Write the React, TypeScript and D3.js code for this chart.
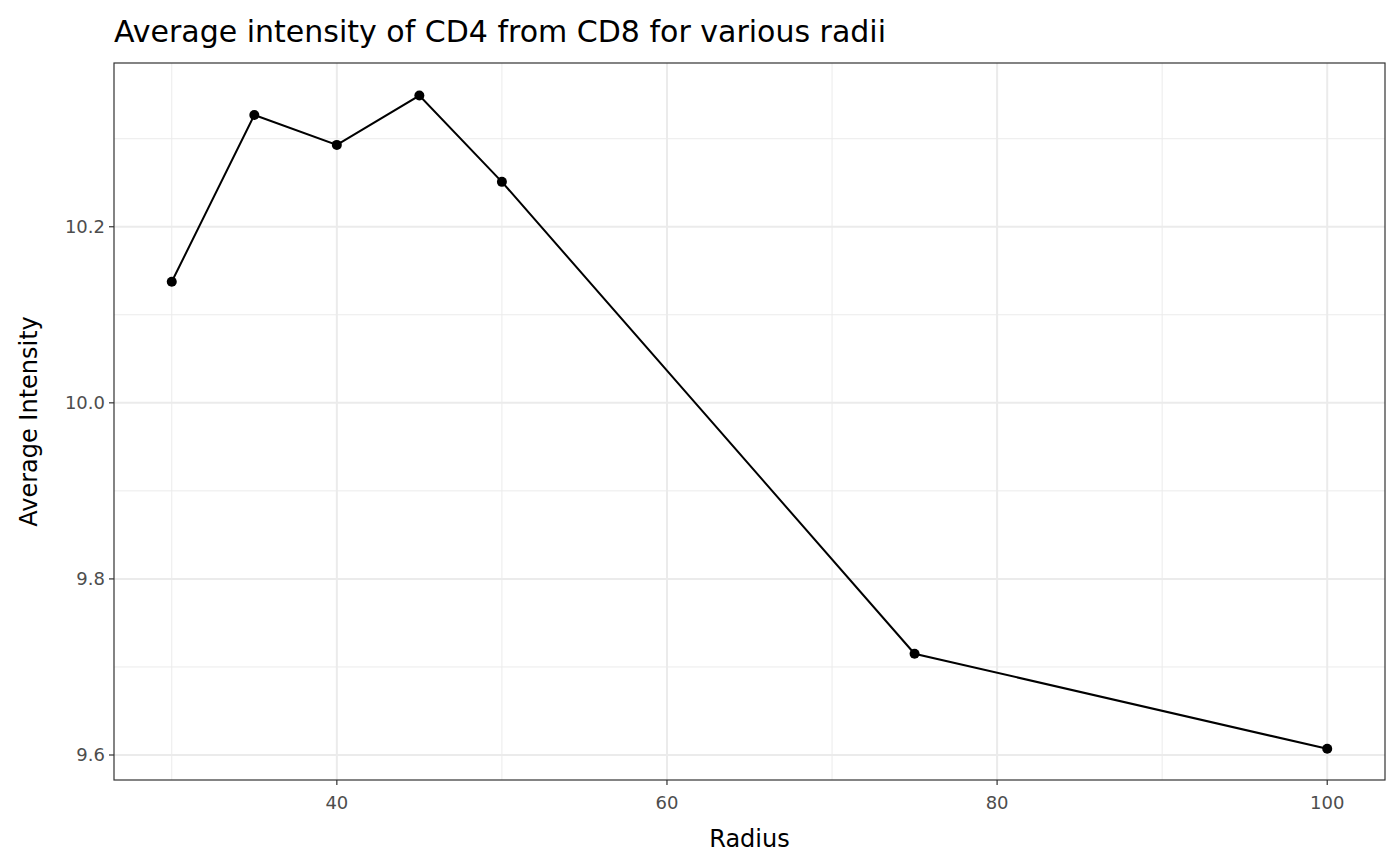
import * as d3 from "d3";

const radii = [30, 35, 40, 45, 50, 75, 100];
const intensity = [10.1375, 10.327, 10.293, 10.349, 10.251, 9.715, 9.607];
const xMajor = [40, 60, 80, 100];
const xMinor = [30, 50, 70, 90];
const yMajor = [9.6, 9.8, 10.0, 10.2];
const yMinor = [9.7, 9.9, 10.1, 10.3];

export default function App() {
  const W = 1400;
  const H = 866;
  const m = { left: 114, right: 15, top: 63, bottom: 86 };
  const x = d3.scaleLinear().domain([26.5, 103.5]).range([m.left, W - m.right]);
  const y = d3.scaleLinear().domain([9.5716, 10.386]).range([H - m.bottom, m.top]);
  const line = d3
    .line<number>()
    .x((_, i) => x(radii[i]))
    .y((d) => y(d));
  const font = "DejaVu Sans, sans-serif";

  return (
    <svg width={W} height={H} style={{ position: "absolute", left: 0, top: 0 }} fontFamily={font}>
      <rect width={W} height={H} fill="white" />
      {xMinor.map((v) => (
        <line key={"xm" + v} x1={x(v)} x2={x(v)} y1={m.top} y2={H - m.bottom} stroke="#ebebeb" strokeWidth={1} />
      ))}
      {yMinor.map((v) => (
        <line key={"ym" + v} x1={m.left} x2={W - m.right} y1={y(v)} y2={y(v)} stroke="#ebebeb" strokeWidth={1} />
      ))}
      {xMajor.map((v) => (
        <line key={"xM" + v} x1={x(v)} x2={x(v)} y1={m.top} y2={H - m.bottom} stroke="#ebebeb" strokeWidth={2} />
      ))}
      {yMajor.map((v) => (
        <line key={"yM" + v} x1={m.left} x2={W - m.right} y1={y(v)} y2={y(v)} stroke="#ebebeb" strokeWidth={2} />
      ))}
      <path d={line(intensity) ?? ""} fill="none" stroke="black" strokeWidth={2} />
      {intensity.map((v, i) => (
        <circle key={i} cx={x(radii[i])} cy={y(v)} r={5} fill="black" />
      ))}
      <rect
        x={m.left}
        y={m.top}
        width={W - m.left - m.right}
        height={H - m.top - m.bottom}
        fill="none"
        stroke="#333333"
        strokeWidth={1.2}
      />
      {xMajor.map((v) => (
        <g key={"xt" + v}>
          <line x1={x(v)} x2={x(v)} y1={H - m.bottom} y2={H - m.bottom + 5} stroke="#333333" strokeWidth={1.2} />
          <text x={x(v)} y={H - m.bottom + 29} textAnchor="middle" fontSize={18} fill="#4d4d4d">
            {v}
          </text>
        </g>
      ))}
      {yMajor.map((v) => (
        <g key={"yt" + v}>
          <line x1={m.left - 5} x2={m.left} y1={y(v)} y2={y(v)} stroke="#333333" strokeWidth={1.2} />
          <text x={m.left - 9} y={y(v) + 6.5} textAnchor="end" fontSize={18} fill="#4d4d4d">
            {v.toFixed(1)}
          </text>
        </g>
      ))}
      <text x={(m.left + W - m.right) / 2} y={H - 19} textAnchor="middle" fontSize={24}>
        Radius
      </text>
      <text
        transform={`translate(37, ${(m.top + H - m.bottom) / 2}) rotate(-90)`}
        textAnchor="middle"
        fontSize={24}
      >
        Average Intensity
      </text>
      <text x={m.left} y={42} fontSize={30}>
        Average intensity of CD4 from CD8 for various radii
      </text>
    </svg>
  );
}
